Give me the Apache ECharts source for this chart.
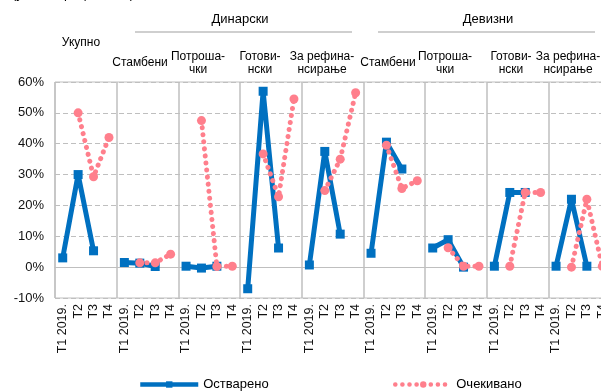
<!DOCTYPE html>
<html>
<head>
<meta charset="utf-8">
<script src="https://cdn.jsdelivr.net/npm/echarts@6/dist/echarts.min.js"></script>
<style>
    html, body { margin: 0; padding: 0; background: #fff; }
    #chart { width: 601px; height: 391px; }
</style>
</head>
<body>
<div id="chart"></div>
<script>
// категорије: 9 група по 4 тромесечја
let quarters = ['T1 2019.', 'T2', 'T3', 'T4'];
let groups = ['Укупно', 'Стамбени', 'Потроша-\nчки', 'Готови-\nнски', 'За рефина-\nнсирање',
    'Стамбени', 'Потроша-\nчки', 'Готови-\nнски', 'За рефина-\nнсирање'];
let categories = [];
for (let i = 0; i < groups.length; i++) {
    for (let j = 0; j < quarters.length; j++) {
        categories.push(quarters[j]);
    }
}

let yTicks = [-10, 0, 10, 20, 30, 40, 50, 60];

// Остварено
let realized = [
    3, 30, 5.3, null,
    1.5, 1.3, 0.2, null,
    0.3, -0.3, 0.3, null,
    -7, 57, 6.2, null,
    0.7, 37.5, 10.7, null,
    4.5, 40.5, 31.8, null,
    6.2, 8.9, 0, null,
    0.3, 24.2, 24.2, null,
    0.3, 22, 0.3, null
];
// Очекивано
let expected = [
    null, 50, 29.3, 42,
    null, 1.4, 1.4, 4.2,
    null, 47.5, 0.2, 0.3,
    null, 36.7, 22.8, 54.5,
    null, 24.8, 35, 56.5,
    null, 39.5, 25.5, 28,
    null, 6.3, 0.3, 0.3,
    null, 0.3, 24.2, 24.2,
    null, 0, 22, 0.3
];

let blue = '#0070C0';
let pink = '#FF7F8C';
let gridColor = '#BFBFBF';
let font = 'Liberation Sans, Arial, sans-serif';

let chart = echarts.init(document.getElementById('chart'));

// заглавља група
let headerX = [81, 140, 198, 260, 322, 388, 445, 511, 568];
let headers = [];
for (let i = 0; i < groups.length; i++) {
    let y = i === 0 ? 43 : 63;
    headers.push({
        type: 'text', x: headerX[i], y: y,
        style: {
            text: groups[i], fill: '#000', font: '12px ' + font,
            textAlign: 'center', textVerticalAlign: 'middle', lineHeight: 13
        }
    });
}
headers.push(
    {type: 'text', x: 12, y: -12, style: {text: '(у нето процентима)', fill: '#000', font: '13px ' + font}},
    {type: 'text', x: 240, y: 19, style: {text: 'Динарски', fill: '#000', font: '13px ' + font, textAlign: 'center', textVerticalAlign: 'middle'}},
    {type: 'text', x: 488, y: 19, style: {text: 'Девизни', fill: '#000', font: '13px ' + font, textAlign: 'center', textVerticalAlign: 'middle'}},
    {type: 'line', shape: {x1: 135, y1: 32, x2: 352, y2: 32}, style: {stroke: gridColor, lineWidth: 1.5}},
    {type: 'line', shape: {x1: 378, y1: 32, x2: 595, y2: 32}, style: {stroke: gridColor, lineWidth: 1.5}}
);

let option = {
    backgroundColor: '#fff',
    animation: false,
    textStyle: {fontFamily: font},
    graphic: headers,
    grid: {
        left: 55, top: 82, width: 555, height: 216,
        outerBoundsMode: 'none',
        containLabel: false,
        show: true, borderColor: gridColor, borderWidth: 1
    },
    legend: [
        {
            data: ['Остварено'], left: 133, top: 373,
            itemWidth: 58, itemHeight: 8,
            lineStyle: {width: 4.5},
            textStyle: {fontSize: 13, color: '#000', fontFamily: font}
        },
        {
            data: ['Очекивано'], left: 388, top: 373,
            itemWidth: 56, itemHeight: 8,
            lineStyle: {width: 4.5},
            textStyle: {fontSize: 13, color: '#000', fontFamily: font}
        }
    ],
    xAxis: {
        type: 'category',
        data: categories,
        boundaryGap: true,
        axisLine: {show: true, lineStyle: {color: gridColor}},
        axisTick: {show: false},
        axisLabel: {
            interval: 0, rotate: 90, margin: 6,
            fontSize: 12.5, color: '#111', fontFamily: font
        },
        splitLine: {
            show: true,
            interval: function (index) {
                return index % 4 === 0;
            },
            lineStyle: {color: gridColor, width: 1.5, type: 'solid'}
        }
    },
    yAxis: {
        type: 'value',
        min: yTicks[0], max: yTicks[yTicks.length - 1], interval: 10,
        axisLine: {show: false},
        axisTick: {show: false},
        axisLabel: {
            formatter: '{value}%', margin: 11,
            fontSize: 13, color: '#111', fontFamily: font
        },
        splitLine: {lineStyle: {color: gridColor, width: 1.2, type: [5, 3]}}
    },
    series: [
        {
            name: 'Остварено',
            type: 'line',
            data: realized,
            color: blue,
            symbol: 'rect', symbolSize: 9,
            lineStyle: {width: 5, color: blue},
            itemStyle: {color: blue},
            z: 2
        },
        {
            name: 'Очекивано',
            type: 'line',
            data: expected,
            color: pink,
            symbol: 'circle', symbolSize: 9,
            lineStyle: {width: 5, color: pink, type: [0.1, 7], cap: 'round'},
            itemStyle: {color: pink},
            z: 3
        }
    ]
};

chart.setOption(option);
</script>
</body>
</html>
